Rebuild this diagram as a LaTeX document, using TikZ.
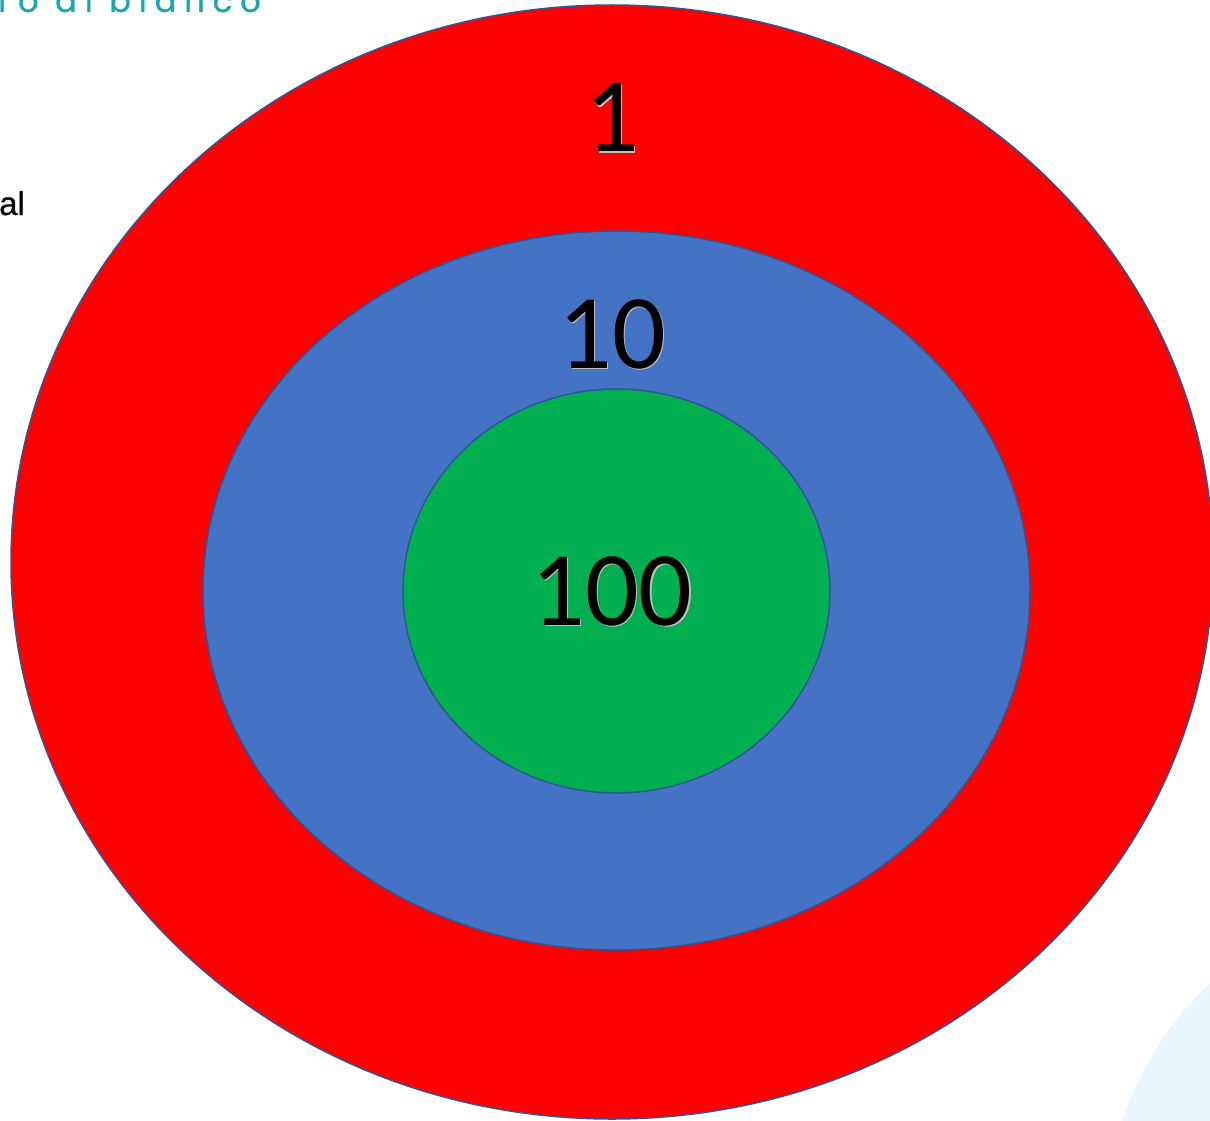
\documentclass[tikz,border=0pt]{standalone}
\usepackage{fontspec}
\setmainfont{Carlito}
\newfontfamily\teal{Poppins}[LetterSpace=25, FakeBold=1]
\newfontfamily\arialf{Liberation Sans}[FakeBold=0.6]
\definecolor{ringred}{HTML}{FF0000}
\definecolor{ringblue}{HTML}{4472C4}
\definecolor{ringgreen}{HTML}{00B050}
\definecolor{edgeblue}{HTML}{2F5597}
\definecolor{titleteal}{HTML}{1AA5B3}
\definecolor{paleblue}{HTML}{E8F6FD}
\tikzset{
  ring/.style={draw=edgeblue, line width=1.5pt},
  score/.style={font=\fontsize{106}{106}\selectfont, anchor=base, inner sep=0pt},
  scoreshadow/.style={score, text=black!25}
}
\begin{document}
\begin{tikzpicture}[x=1pt,y=-1pt]
\useasboundingbox (0,0) rectangle (1210,1121);
\clip (0,0) rectangle (1210,1121);
\fill[paleblue] (1434,1223) circle[radius=328];
\draw[ring, fill=ringred] (612,562) ellipse[x radius=601, y radius=557];
\draw[ring, fill=ringblue] (616.5,590.5) ellipse[x radius=413.5, y radius=359.5];
\draw[ring, fill=ringgreen] (616.5,591) ellipse[x radius=213.5, y radius=202];
\node[scoreshadow] (s1sh) at (613.5,153.5) {1};
\node[score] (s1) at (612,152) {1};
\node[scoreshadow] (s10sh) at (613.5,369.5) {10};
\node[score] (s10) at (612,368) {10};
\node[scoreshadow] (s100sh) at (613.5,626.5) {100};
\node[score] (s100) at (612,625) {100};
\node[anchor=base west, inner sep=0pt, text=titleteal, font=\teal\fontsize{32}{32}\selectfont] (title) at (-2,12) {ro al bianco};
\node[anchor=base west, inner sep=0pt, font=\arialf\fontsize{33}{33}\selectfont] (al) at (-1,215) {al};
\end{tikzpicture}
\end{document}
